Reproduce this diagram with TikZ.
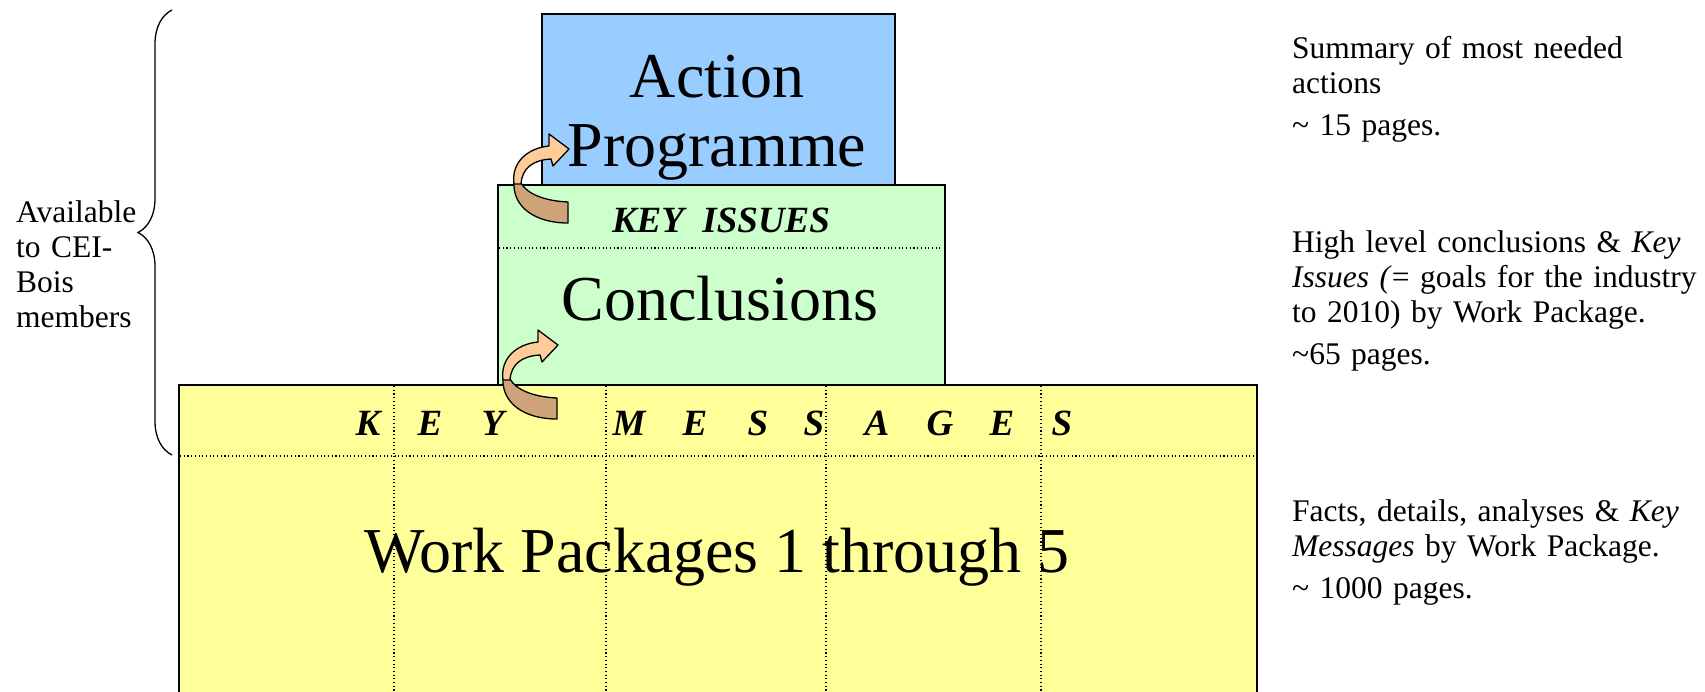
\documentclass[tikz,border=0pt]{standalone}
\usepackage{fontspec}
\setmainfont{Liberation Serif}
\usetikzlibrary{positioning, decorations.pathreplacing}
\definecolor{ActBlue}{RGB}{153,204,255}
\definecolor{ConcGreen}{RGB}{204,255,204}
\definecolor{WpYellow}{RGB}{255,255,153}
\definecolor{ArrLight}{RGB}{255,204,153}
\definecolor{ArrDark}{RGB}{207,163,122}

\begin{document}
\begin{tikzpicture}[x=1pt, y=-1pt,
    box/.style={draw=black, line width=1.5pt, inner sep=0pt, anchor=north west},
    sepline/.style={line width=1.1pt, dash pattern=on 1.1pt off 2.6pt},
    bigtxt/.style={font=\fontsize{64}{69}\selectfont, inner sep=0pt, anchor=base},
    keytxt/.style={font=\fontsize{37}{40}\selectfont\bfseries\itshape, inner sep=0pt, anchor=base},
    sidetxt/.style={font=\fontsize{31.5}{35}\selectfont, inner sep=0pt, anchor=base west, align=left, text width=420pt}]
    \useasboundingbox (0,0) rectangle (1705,691);
    \clip (0,0) rectangle (1705,691);

    % Work Packages (bottom)
    \node[box, fill=WpYellow, minimum width=1078pt, minimum height=330pt] (wpbox) at (178,384) {};
    \foreach \x in {394,606,826,1041}
        \draw[sepline] (\x,386) -- (\x,700);
    \draw[sepline] (180,456) -- (1255,456);
    \foreach \ch/\xx [count=\i] in {K/368, E/430, Y/493, M/629, E/695, S/758, S/814, A/877, G/940, E/1002, S/1062}
        \node[keytxt] (km\i) at (\xx,435) {\ch};
    \node[bigtxt] (wptxt) at (717,572) {Work Packages 1 through 5};

    % Action Programme
    \node[box, fill=ActBlue, minimum width=353pt, minimum height=171pt] (actbox) at (541,13) {};
    \node[bigtxt] (acttxt) at (717,97) {Action};
    \node[bigtxt] (progtxt) at (717,166) {Programme};

    % Conclusions
    \node[box, fill=ConcGreen, minimum width=447pt, minimum height=200pt] (concbox) at (497,184) {};
    \draw[sepline] (499,248) -- (942,248);
    \node[keytxt] (kitxt) at (721,232) {KEY\ \ ISSUES};
    \node[bigtxt] (conctxt) at (720,320) {Conclusions};

    % bent arrows
    \foreach \dx/\dy in {0/0, -11/196} {
        \begin{scope}[shift={(\dx,\dy)}]
            \draw[line width=1.3pt, fill=ArrDark, line join=round] (514,183) .. controls (513,207) and (535,223) .. (568,223) -- (568,202) .. controls (545,201) and (527,194) .. (521,183) -- cycle;
            \draw[line width=1.3pt, fill=ArrLight, line join=round] (514,184) .. controls (511,162) and (528,148) .. (549,146) -- (549,134) -- (569,149) -- (553,166) -- (551,159) .. controls (533,160) and (522,168) .. (521,184) -- cycle;
        \end{scope}
    }

    % left brace
    \coordinate (brtop) at (172,10);
    \coordinate (brbot) at (172,455);
    \draw[decorate, decoration={brace, amplitude=34pt}, line width=1.3pt] (brbot) -- (brtop);
    \node[sidetxt, text width=130pt] (availtxt) at (16,222) {Available\\to CEI-\\Bois\\members};

    % right side notes
    \node[sidetxt] (sumtxt) at (1292,58) {Summary of most needed\\actions\\[7pt]\textasciitilde{} 15 pages.};
    \node[sidetxt] (hightxt) at (1292,252) {High level conclusions \& \textit{Key}\\\textit{Issues (}= goals for the industry\\to 2010) by Work Package.\\[7pt]\textasciitilde65 pages.};
    \node[sidetxt] (facttxt) at (1292,521) {Facts, details, analyses \& \textit{Key}\\\textit{Messages} by Work Package.\\[7pt]\textasciitilde{} 1000 pages.};
\end{tikzpicture}
\end{document}
